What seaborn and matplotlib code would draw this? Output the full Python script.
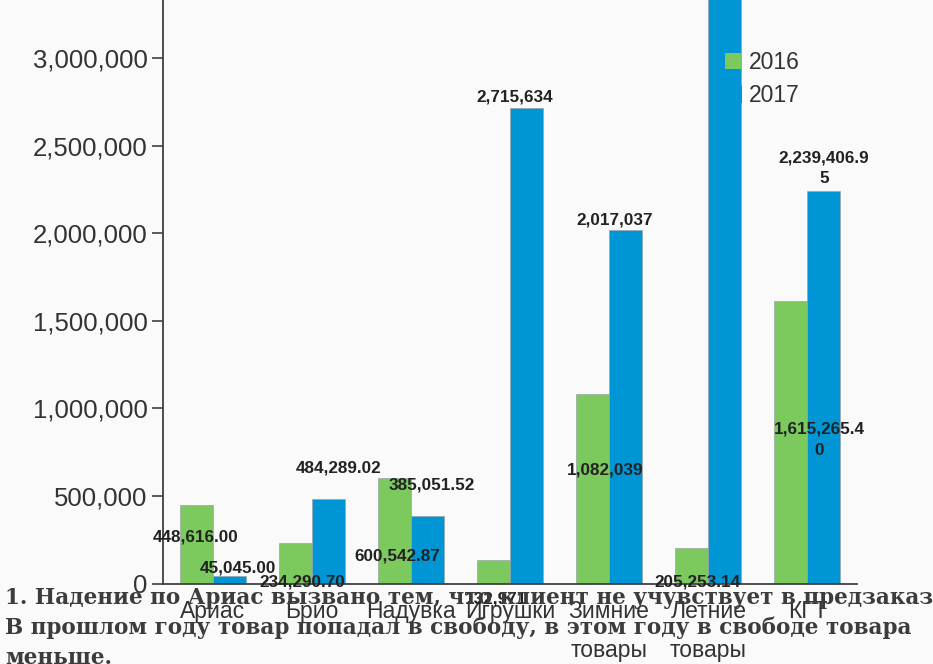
import pandas as pd
import seaborn as sns
import matplotlib.pyplot as plt
from matplotlib.ticker import StrMethodFormatter
from matplotlib.patches import Patch

# данные
categories = ["Ариас", "Брио", "Надувка", "Игрушки", "Зимние\nтовары", "Летние\nтовары", "КГТ"]
years = ["2016", "2017"]
sales_2016 = [448616.00, 234290.70, 600542.87, 132971, 1082039, 205253.14, 1615265.40]
sales_2017 = [45045.00, 484289.02, 385051.52, 2715634, 2017037, 3600000, 2239406.95]
labels_2016 = ["448,616.00", "234,290.70", "600,542.87", "132,971", "1,082,039", "205,253.14", "1,615,265.4\n0"]
labels_2017 = ["45,045.00", "484,289.02", "385,051.52", "2,715,634", "2,017,037", "", "2,239,406.9\n5"]
note = ("1. Надение по Ариас вызвано тем, что клиент не учувствует в предзаказ\n"
        "В прошлом году товар попадал в свободу, в этом году в свободе товара\n"
        "меньше.")

# сдвиги подписей от вершины столбца (пиксели: вправо, вниз)
off_2016 = [(0, 32), (7, 39), (3, 78), (3, 39), (13, 76), (6, 34), (28, 139)]
off_2017 = [(9, -8), (10, -31), (4, -31), (-12, -11), (-11, -10), (0, 0), (0, -23)]

df = pd.DataFrame({
    "cat": categories * 2,
    "year": [years[0]] * len(categories) + [years[1]] * len(categories),
    "value": sales_2016 + sales_2017,
})

sns.set_style("white")
plt.rcParams["font.family"] = ["Liberation Sans", "DejaVu Sans"]

fig = plt.figure(figsize=(9.33, 6.64), dpi=100, facecolor="#fafafa")
ax = fig.add_axes([163 / 933, 80.4 / 664, 694 / 933, 583.6 / 664])
ax.set_facecolor("#fafafa")

colors = {"2016": "#7cc95e", "2017": "#0096d6"}
sns.barplot(data=df, x="cat", y="value", hue="year", palette=colors, width=0.667,
            saturation=1, edgecolor="#9aa5a8", linewidth=0.5, legend=False, ax=ax)

ax.set_xlim(-0.5, 6.5)
ax.set_ylim(0, 3331000)
ax.set_yticks(range(0, 3000001, 500000))
ax.yaxis.set_major_formatter(StrMethodFormatter("{x:,.0f}"))
ax.set_xlabel("")
ax.set_ylabel("")
for s in ["top", "right"]:
    ax.spines[s].set_visible(False)
for s in ["left", "bottom"]:
    ax.spines[s].set_color("#404040")
    ax.spines[s].set_linewidth(1.3)
ax.tick_params(axis="y", length=8, width=1.2, color="#404040", labelsize=18.5,
               labelcolor="#333333", left=True, pad=3)
ax.tick_params(axis="x", length=0, labelsize=16.5, labelcolor="#333333", pad=12)
for t in ax.get_xticklabels():
    t.set_linespacing(1.85)
    t.set_va("top")

# подписи значений
for cont, labs, offs in [(ax.containers[0], labels_2016, off_2016),
                         (ax.containers[1], labels_2017, off_2017)]:
    for bar, lab, (dx, dy) in zip(cont, labs, offs):
        if not lab:
            continue
        ax.annotate(lab, xy=(bar.get_x() + bar.get_width() / 2, bar.get_height()),
                    xytext=(dx * 0.72, -dy * 0.72), textcoords="offset points",
                    ha="center", va="center", fontsize=12.3, fontweight="bold",
                    color="#222222", linespacing=1.5, annotation_clip=False)

handles = [Patch(facecolor=colors[y], edgecolor="none") for y in years]
ax.legend(handles, years, loc="upper left", bbox_to_anchor=(725 / 933, 1 - 51 / 664),
          bbox_transform=fig.transFigure, frameon=False, fontsize=16.5,
          handlelength=0.75, handleheight=0.75, handletextpad=0.3,
          labelspacing=0.45, borderpad=0, borderaxespad=0, labelcolor="#333333")

fig.text(5 / 933, 1 - 587 / 664, note, ha="left", va="top", family="DejaVu Serif",
         fontweight="bold", fontsize=15.5, color="#3c3c3c", linespacing=1.45)

fig.savefig("out.png", dpi=100, facecolor=fig.get_facecolor())
